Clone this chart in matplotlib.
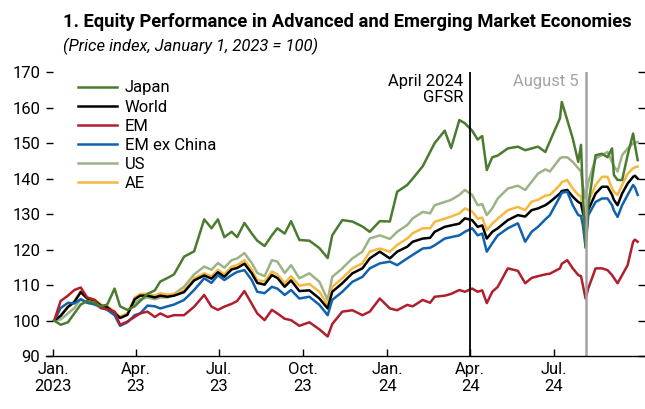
import matplotlib
matplotlib.use("Agg")
import matplotlib.pyplot as plt
import numpy as np
import pandas as pd

plt.rcParams['font.family'] = ['Roboto', 'DejaVu Sans']

dates = ["2023-01-02", "2023-01-09", "2023-01-17", "2023-01-24", "2023-01-31", "2023-02-07",
         "2023-02-15", "2023-02-22", "2023-03-01", "2023-03-09", "2023-03-15", "2023-03-23",
         "2023-03-31", "2023-04-06", "2023-04-14", "2023-04-22", "2023-04-28", "2023-05-06",
         "2023-05-13", "2023-05-24", "2023-06-04", "2023-06-15", "2023-06-23", "2023-06-30",
         "2023-07-07", "2023-07-15", "2023-07-21", "2023-07-29", "2023-08-06", "2023-08-12",
         "2023-08-20", "2023-08-28", "2023-09-03", "2023-09-11", "2023-09-18", "2023-09-27",
         "2023-10-08", "2023-10-19", "2023-10-28", "2023-11-02", "2023-11-13", "2023-11-24",
         "2023-12-05", "2023-12-13", "2023-12-24", "2024-01-04", "2024-01-12", "2024-01-23",
         "2024-01-29", "2024-02-09", "2024-02-17", "2024-02-22", "2024-03-04", "2024-03-11",
         "2024-03-20", "2024-03-26", "2024-04-03", "2024-04-09", "2024-04-14", "2024-04-19",
         "2024-04-25", "2024-05-01", "2024-05-12", "2024-05-23", "2024-05-31", "2024-06-07",
         "2024-06-14", "2024-06-22", "2024-06-27", "2024-07-08", "2024-07-10", "2024-07-16",
         "2024-07-22", "2024-07-28", "2024-07-31", "2024-08-02", "2024-08-05", "2024-08-08",
         "2024-08-16", "2024-08-23", "2024-08-29", "2024-09-03", "2024-09-05", "2024-09-09",
         "2024-09-14", "2024-09-20", "2024-09-26", "2024-09-28", "2024-10-01"]

japan = [100, 98.8, 99.5, 102, 104.5, 105.5, 105, 104, 104.5, 109, 104, 103,
         104, 105.5, 107.5, 108.5, 111, 112, 113, 118, 119.5, 128.5, 126, 128.5,
         123.5, 125, 123.5, 127.5, 124.5, 122.5, 121, 124, 126, 124.5, 128, 122.7,
         122.5, 120.4, 117.6, 124, 128.3, 127.9, 126.5, 125, 128, 127.9, 136.3, 138.2,
         140, 143.5, 147.5, 150, 153.5, 148.6, 156.5, 155.6, 153.5, 151, 152, 142.4,
         146, 146.5, 148.5, 149, 148, 148.5, 149, 147.5, 150.5, 157, 161.6, 156.5,
         151.3, 144.7, 149.5, 136, 120.5, 132.5, 146.6, 147, 146, 148.5, 141, 139.6,
         139.6, 146.6, 152.7, 149.5, 145.2]

world = [100, 101.3, 103.8, 105.2, 108, 106.2, 105.7, 104.2, 103.7, 102.2, 100.7, 101.6,
         106, 107, 107, 106.5, 107, 106.7, 107, 108, 111.3, 112.7, 111.8, 113.6,
         112.3, 114.4, 114.8, 116, 113.3, 110.6, 110.1, 112.8, 112, 109.5, 111.3, 108.3,
         108.5, 106.2, 103.4, 108.1, 110.5, 113.3, 114.7, 117.5, 119.4, 117.5, 119.4, 120.8,
         122.2, 123.1, 123.3, 125, 126.4, 126.8, 127.3, 128.8, 128.3, 126.4, 126.8, 123.1,
         125, 126, 128.3, 129.7, 129.3, 131.1, 131.6, 132.5, 133.4, 135.8, 136.5, 136.8,
         134.9, 133.4, 133, 130.5, 127.4, 131.2, 135.8, 137.7, 137.7, 135.4, 134, 132.5,
         135.8, 138.6, 140.5, 140.8, 140]

em = [100, 105.5, 107, 108.6, 109.3, 106.5, 105.8, 103.5, 103.2, 102.5, 98.8, 99.7,
      101, 102, 102.5, 101, 102, 101, 101.5, 101.5, 103.9, 107.2, 103.9, 103,
      103.9, 104.7, 105.5, 108.3, 104.7, 102, 100.1, 103, 102, 100.5, 100.1, 98.5,
      99.5, 97.5, 95.5, 99, 102.5, 102.9, 101.5, 102.5, 106.2, 103.4, 102.9, 104.4,
      104, 105.8, 105, 106.7, 107, 107.5, 108.6, 108.1, 109, 108.1, 108.5, 104.9,
      108.1, 109.5, 114.7, 114, 110.5, 112, 112.5, 113, 113.2, 114.7, 116, 117,
      114.7, 112.8, 112.5, 110, 106.2, 109.1, 114.7, 114.7, 114.2, 112.8, 112, 110.5,
      112.8, 115.6, 122.2, 122.8, 122.2]

em_ex_china = [100, 103.5, 105, 104.8, 106, 105, 104.6, 103.9, 103, 101.5, 98.5, 99.5,
               101.5, 102, 104.2, 104, 103.4, 104, 104.5, 105.8, 108.6, 111.9, 110.6, 112.8,
               111.4, 112.8, 113.7, 114.2, 111.4, 108.1, 107.7, 109.5, 109, 107.2, 108.6, 106.2,
               106.7, 104.4, 101.5, 105.8, 108.1, 110.9, 112.3, 114.7, 116.1, 116.6, 115.6, 117.5,
               118.5, 120.3, 120.5, 121.2, 123.1, 123.5, 124, 125, 126, 124, 124.5, 119.4,
               121.8, 124, 126, 127.4, 122.2, 125, 126.4, 128.5, 129.7, 134.9, 136, 136.3,
               132.5, 129.7, 129.5, 127, 120.8, 129.7, 133.4, 134.4, 134.4, 132.5, 131, 129.2,
               132.5, 135.4, 138.2, 137.5, 135.4]

us = [100, 100.3, 102, 103.5, 106, 105, 104.5, 103.5, 103, 102, 101, 102,
      105, 106, 106.5, 106, 106.5, 106.5, 107.5, 109.5, 113, 115.2, 114.3, 116.2,
      114.9, 117, 117.5, 119, 116.2, 113.4, 112.5, 117, 116.6, 113.4, 115.6, 111.9,
      113.3, 110.9, 105.8, 112.3, 114.7, 117.5, 119.4, 123.1, 124, 123, 125, 126.9,
      128.8, 130.6, 130.2, 132.5, 133.4, 134, 135.4, 136.8, 135.4, 132.5, 132.8, 129.7,
      131.6, 134.4, 137.2, 138, 136.8, 139.1, 141.4, 142.6, 142, 145.7, 146, 146,
      144.7, 142.9, 142, 138, 134.4, 139, 145.7, 146.6, 147.5, 144.7, 143.5, 142,
      146.6, 148.5, 149.9, 150.1, 150.3]

ae = [100, 101.5, 104, 105.5, 108.3, 106.5, 106, 104.5, 104, 102.5, 101, 102,
      106.5, 107.5, 107.5, 107, 107.7, 107.3, 107.5, 108.5, 111.9, 113.3, 112.5, 114.3,
      113, 115.2, 115.6, 117, 114.3, 111.4, 111, 113.8, 113, 110.5, 112.5, 109.8,
      110.3, 108.1, 104.4, 109.5, 111.9, 114.7, 116.1, 119.4, 120.3, 119.4, 121.3, 123.1,
      124.6, 126, 126, 127.8, 128.7, 129.3, 130.2, 131.6, 130.7, 128.7, 129, 125.5,
      127.3, 128.7, 131.1, 132, 131.1, 133.5, 134, 135.2, 135.4, 138.2, 139, 139.6,
      137.2, 135.4, 135, 132, 128.8, 133.5, 138.2, 140.5, 140.5, 137.2, 136.3, 135.4,
      138.2, 141.4, 142.9, 143.2, 143.4]

x = pd.to_datetime(dates)

fig = plt.figure(figsize=(6.45, 4.09), dpi=100)
ax = fig.add_axes([0.0713, 0.1296, 0.9287, 0.694])

lw = 1.8
l_us, = ax.plot(x, us, color='#9cb388', lw=lw, label='US')
l_ae, = ax.plot(x, ae, color='#f6b940', lw=lw, label='AE')
l_wd, = ax.plot(x, world, color='black', lw=lw, label='World')
l_emx, = ax.plot(x, em_ex_china, color='#1061ae', lw=lw, label='EM ex China')
l_em, = ax.plot(x, em, color='#b01f2e', lw=lw, label='EM')
l_jp, = ax.plot(x, japan, color='#4a7b2f', lw=lw, label='Japan')

ax.axvline(pd.Timestamp('2024-04-01'), color='black', lw=1.3)
ax.axvline(pd.Timestamp('2024-08-05'), color='#a3a3a3', lw=1.8)

ax.annotate('April 2024\nGFSR', xy=(pd.Timestamp('2024-04-01'), 170), xytext=(-5, -1),
            textcoords='offset points', ha='right', va='top', fontsize=12, linespacing=1.1)
ax.annotate('August 5', xy=(pd.Timestamp('2024-08-05'), 170), xytext=(-5, -1),
            textcoords='offset points', ha='right', va='top', fontsize=12, color='#a3a3a3')

ax.set_ylim(90, 170)
ax.set_yticks(np.arange(90, 171, 10))
ax.set_xlim(pd.Timestamp('2022-12-24'), pd.Timestamp('2024-10-09'))
ticks = pd.to_datetime(["2023-01-01", "2023-04-01", "2023-07-01", "2023-10-01",
                        "2024-01-01", "2024-04-01", "2024-07-01"])
tick_labels = ["Jan.\n2023", "Apr.\n23", "Jul.\n23", "Oct.\n23", "Jan.\n24", "Apr.\n24", "Jul.\n24"]
ax.set_xticks(ticks)
ax.set_xticklabels(tick_labels)

for s in ['top', 'left', 'right']:
    ax.spines[s].set_visible(False)
ax.spines['bottom'].set_linewidth(1.0)
ax.tick_params(axis='x', direction='in', length=5, width=1, labelsize=12, pad=4)
ax.tick_params(axis='y', direction='in', length=5, width=1, labelsize=12, pad=4,
               right=True, left=True)

ax.legend(handles=[l_jp, l_wd, l_em, l_emx, l_us, l_ae], loc='upper left',
          bbox_to_anchor=(0.04, 1.0), frameon=False, fontsize=12,
          handlelength=2.3, handletextpad=0.5, labelspacing=0.25, borderaxespad=0.1)

fig.text(0.097, 0.935, '1. Equity Performance in Advanced and Emerging Market Economies',
         fontsize=13.2, fontweight='bold', ha='left', va='baseline')
fig.text(0.097, 0.875, '(Price index, January 1, 2023 = 100)', fontsize=12,
         style='italic', ha='left', va='baseline')

fig.savefig('out.png', dpi=100)
